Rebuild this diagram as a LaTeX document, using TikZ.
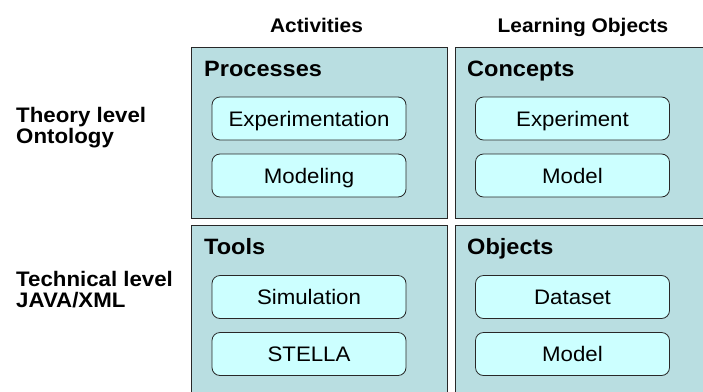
\documentclass[tikz,border=0pt]{standalone}
\usepackage{fontspec}
\setmainfont[FakeStretch=1.06]{Liberation Sans}
\definecolor{panelfill}{RGB}{185,222,225}
\definecolor{boxfill}{RGB}{204,255,255}
\definecolor{edge}{RGB}{40,40,40}
\begin{document}
\begin{tikzpicture}[x=1pt,y=-1pt,
  panel/.style={draw=edge, line width=1.3pt, fill=panelfill, anchor=north west, inner sep=0pt},
  itembox/.style={draw=edge, line width=0.8pt, fill=boxfill, rounded corners=8pt,
     minimum width=194pt, minimum height=43pt, inner sep=0pt,
     text height=17pt, text depth=2pt, font=\fontsize{21}{24}\selectfont},
  paneltitle/.style={anchor=base west, inner sep=0pt, font=\bfseries\fontsize{22.2}{26}\selectfont},
  colhead/.style={anchor=base, inner sep=0pt, font=\bfseries\fontsize{19.7}{23}\selectfont},
  rowlabel/.style={anchor=base west, inner sep=0pt, align=left, font=\bfseries\fontsize{21}{20.5}\selectfont}
]
\useasboundingbox (0,0) rectangle (703,391);
\fill[white] (0,0) rectangle (703,391);

% panels
\node[panel, minimum width=256pt, minimum height=171pt] (tl) at (191,47) {};
\node[panel, minimum width=270pt, minimum height=171pt] (tr) at (455,47) {};
\node[panel, minimum width=256pt, minimum height=190pt] (bl) at (191,225) {};
\node[panel, minimum width=270pt, minimum height=190pt] (br) at (455,225) {};

% headings
\node[colhead] (hact) at (316.5,32) {Activities};
\node[colhead] (hlo) at (583,32) {Learning Objects};

% row labels (anchored at the baseline of the last line)
\node[rowlabel] (rtheory) at (16,143) {Theory level\\Ontology};
\node[rowlabel] (rtech) at (16,307) {Technical level\\JAVA/XML};

% panel titles
\node[paneltitle] (tproc) at (204,76) {Processes};
\node[paneltitle] (tconc) at (467,76) {Concepts};
\node[paneltitle] (ttools) at (204,254) {Tools};
\node[paneltitle] (tobj) at (467,254) {Objects};

% item boxes
\node[itembox] (b1) at (309,118.5) {Experimentation};
\node[itembox] (b2) at (309,175.5) {Modeling};
\node[itembox] (b3) at (572.5,118.5) {Experiment};
\node[itembox] (b4) at (572.5,175.5) {Model};
\node[itembox] (b5) at (309,297) {Simulation};
\node[itembox] (b6) at (309,354) {STELLA};
\node[itembox] (b7) at (572.5,297) {Dataset};
\node[itembox] (b8) at (572.5,354) {Model};
\end{tikzpicture}
\end{document}
